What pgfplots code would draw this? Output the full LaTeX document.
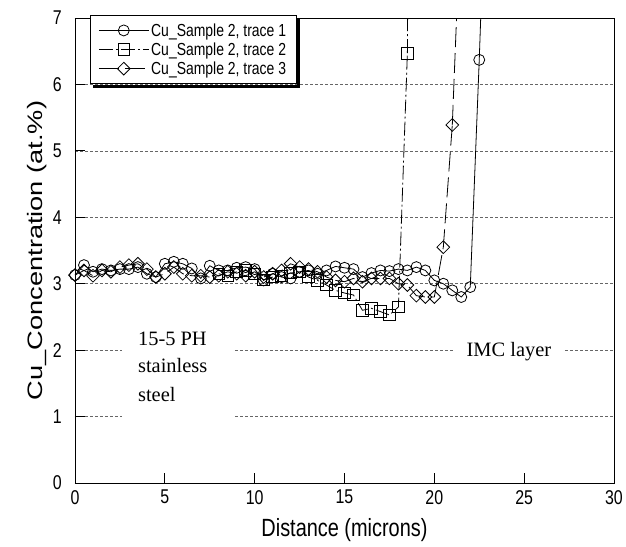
\documentclass[border=0pt]{standalone}
\usepackage{fontspec}
\setmainfont{Liberation Sans}
\newfontfamily\nsans[FakeStretch=0.8]{Liberation Sans}
\newfontfamily\wsans[FakeStretch=1.3]{Liberation Sans}
\newfontfamily\tnr{Liberation Serif}
\newcommand\legfont{\nsans\fontsize{17.5}{20}\selectfont}
\usepackage{pgfplots}
\pgfplotsset{compat=1.18}

\pgfplotstableread{
x y
0.0 3.13
0.5 3.28
1.0 3.18
1.5 3.22
2.0 3.20
2.5 3.22
3.0 3.22
3.5 3.25
4.0 3.15
4.5 3.10
5.0 3.30
5.5 3.33
6.0 3.30
6.5 3.23
7.0 3.08
7.5 3.27
8.0 3.20
8.5 3.20
9.0 3.24
9.5 3.25
10.0 3.22
10.5 3.05
11.0 3.15
11.5 3.10
12.0 3.08
12.5 3.18
13.0 3.20
13.5 3.15
14.0 3.20
14.5 3.26
15.0 3.24
15.5 3.22
16.0 3.10
16.5 3.16
17.0 3.20
17.5 3.19
18.0 3.22
18.5 3.20
19.0 3.25
19.5 3.20
20.0 3.05
20.5 3.00
21.0 2.90
21.5 2.80
22.0 2.95
22.5 6.37
}\traceA

\pgfplotstableread{
x y
8.0 3.15
8.5 3.12
9.0 3.18
9.5 3.20
10.0 3.15
10.5 3.06
11.0 3.10
11.5 3.12
12.0 3.16
12.5 3.18
13.0 3.10
13.5 3.05
14.0 2.98
14.5 2.90
15.0 2.86
15.5 2.83
16.0 2.60
16.5 2.63
17.0 2.58
17.5 2.53
18.0 2.65
18.5 6.47
}\traceB

\pgfplotstableread{
x y
0.0 3.13
0.5 3.20
1.0 3.12
1.5 3.20
2.0 3.18
2.5 3.25
3.0 3.28
3.5 3.30
4.0 3.22
4.5 3.10
5.0 3.15
5.5 3.25
6.0 3.15
6.5 3.12
7.0 3.12
7.5 3.10
8.0 3.12
8.5 3.18
9.0 3.15
9.5 3.12
10.0 3.18
10.5 3.10
11.0 3.15
11.5 3.20
12.0 3.30
12.5 3.25
13.0 3.22
13.5 3.18
14.0 3.10
14.5 3.05
15.0 3.03
15.5 3.08
16.0 3.03
16.5 3.08
17.0 3.08
17.5 3.08
18.0 3.00
18.5 2.98
19.0 2.82
19.5 2.80
20.0 2.80
20.5 3.55
21.0 5.39
}\traceC

\begin{document}
\begin{tikzpicture}
\begin{axis}[
  at={(0,0)}, anchor=south west,
  scale only axis, width=539bp, height=465bp,
  xmin=0, xmax=30, ymin=0, ymax=7,
  xtick={0,5,...,30}, ytick={0,1,...,7},
  tick align=inside, major tick length=10bp,
  xtick pos=bottom, ytick pos=left,
  axis line style={line width=0.8bp},
  every tick/.style={black, line width=0.8bp},
  ymajorgrids,
  grid style={dash pattern=on 3bp off 2bp, gray!80!black, line width=0.6bp},
  /pgf/number format/assume math mode=true,
  tick label style={font=\nsans\fontsize{20}{22}\selectfont},
  xticklabel style={anchor=north, inner sep=0pt, yshift=-7bp},
  yticklabel style={anchor=east, inner sep=0pt, xshift=-13bp},
  xlabel={Distance (microns)},
  ylabel={Cu\_Concentration (at.\%)},
  xlabel style={font=\nsans\fontsize{25}{28}\selectfont, at={(axis description cs:0.5,-0.101)}, anchor=center},
  ylabel style={font=\wsans\fontsize{21}{24}\selectfont, at={(axis description cs:-0.0705,0.5)}, anchor=center},
  legend image code/.code={\draw[mark repeat=2,mark phase=2,#1] plot coordinates {(0bp,0bp) (25bp,0bp) (50bp,0bp)};},
  legend cell align=left,
  legend style={name=leg, at={(rel axis cs:0.0278,1.0065)}, anchor=north west,
    draw=black, line width=0.8bp, fill=white,
    inner xsep=8bp, inner ysep=6bp, row sep=1bp},
]
% white boxes behind annotations
\fill[white] (axis cs:2.62,0.80) rectangle (axis cs:8.80,2.45);

\addplot[black, line width=0.8bp, mark=o, mark size=5.5bp, mark options={solid, fill=none}] table[x=x,y=y] {\traceA};
\addlegendentry{\legfont Cu\_Sample 2, trace 1}
\addplot[black, line width=0.8bp, dash pattern=on 14bp off 3bp on 2bp off 3bp, mark=square, mark size=5.8bp, mark options={solid, fill=none}] table[x=x,y=y] {\traceB};
\addlegendentry{\legfont Cu\_Sample 2, trace 2}
\addplot[black, line width=0.8bp, dash pattern=on 20bp off 6bp, mark=square, mark size=4.5bp, mark options={solid, fill=none, rotate=45}] table[x=x,y=y] {\traceC};
\addlegendentry{\legfont Cu\_Sample 2, trace 3}

\addplot[black, line width=0.8bp, forget plot] coordinates {(22.5,6.37) (22.62,7.3)};
\addplot[black, line width=0.8bp, dash pattern=on 14bp off 3bp on 2bp off 3bp, forget plot] coordinates {(18.5,6.47) (18.52,7.3)};
\addplot[black, line width=0.8bp, dash pattern=on 20bp off 6bp, forget plot] coordinates {(21.0,5.39) (21.28,7.3)};

\node[font=\tnr\fontsize{20.5}{24}\selectfont, anchor=base west, inner sep=0pt] at (axis cs:3.5,2.077) {15-5 PH};
\node[font=\tnr\fontsize{20.5}{24}\selectfont, anchor=base west, inner sep=0pt] at (axis cs:3.5,1.656) {stainless};
\node[font=\tnr\fontsize{20.5}{24}\selectfont, anchor=base west, inner sep=0pt] at (axis cs:3.5,1.22) {steel};
\node[font=\tnr\fontsize{20.5}{24}\selectfont, anchor=base, fill=white, inner xsep=12bp, inner ysep=3bp] at (axis cs:24.15,1.897) {IMC layer};
\end{axis}
% legend shadow strips
\fill[black] ([shift={(0.4bp,-3.4bp)}]leg.north east) rectangle ([shift={(3.4bp,-3.4bp)}]leg.south east);
\fill[black] ([shift={(3.4bp,-0.4bp)}]leg.south west) rectangle ([shift={(3.4bp,-3.4bp)}]leg.south east);
\pgfresetboundingbox
\useasboundingbox (-75bp,-64bp) rectangle (551bp,483bp);
\end{tikzpicture}
\end{document}
